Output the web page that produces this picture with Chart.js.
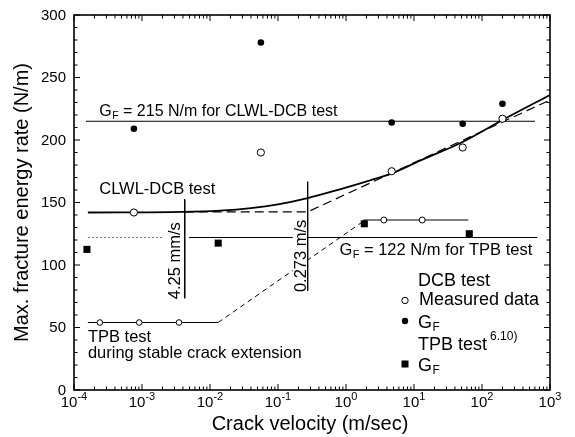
<!DOCTYPE html>
<html>
<head>
<meta charset="utf-8">
<script src="https://cdn.jsdelivr.net/npm/chart.js@4/dist/chart.umd.min.js"></script>
<style>
  html, body { margin: 0; padding: 0; background: #fff; }
  #wrap { width: 575px; height: 437px; }
</style>
</head>
<body>
<div id="wrap"><canvas id="c" width="575" height="437"></canvas></div>
<script>
// ---- axis ranges & tick labels ----
const xMin = 1e-4, xMax = 1e3;
const yMin = 0, yMax = 300;
const xTickExponents = [-4, -3, -2, -1, 0, 1, 2, 3];
const yTickValues = [0, 50, 100, 150, 200, 250, 300];

// ---- DCB test ----
const dcbMeasuredX = [7.6e-4, 0.056, 4.7, 52, 200];
const dcbMeasuredY = [142, 190, 175, 194, 217];
const dcbGfX = [7.6e-4, 0.056, 4.7, 52, 200];
const dcbGfY = [209, 278, 214, 213, 229];

// ---- TPB test GF ----
const tpbGfX = [1.55e-4, 0.0132, 1.86, 65];
const tpbGfY = [112.5, 117.5, 133, 125];

// ---- TPB during stable crack extension (open circles) ----
const tpbStableX = [2.4e-4, 9.1e-4, 3.5e-3];
const tpbStableY = [54, 54, 54];
const tpbUpperX = [3.6, 13.2];
const tpbUpperY = [136, 136];
const tpbStableLineX = [1.6e-4, 0.0132];
const tpbStableLineY = [54, 54];
const tpbTransitionX = [0.0132, 1.8];
const tpbTransitionY = [54, 135];
const tpbUpperLineX = [1.8, 63];
const tpbUpperLineY = [136, 136];

// ---- CLWL-DCB curves ----
const clwlCurveX = [1.6e-4, 4e-3, 0.014, 0.04, 0.1, 0.273, 0.81, 2.2, 4.7, 12.3, 50, 200, 1000];
const clwlCurveY = [142, 142.5, 143.5, 145.5, 148.5, 153.5, 160.5, 167.5, 173.3, 183.5, 198, 216, 236];
const clwlDashX = [4.25e-3, 0.273, 1000];
const clwlDashY = [142.5, 142.5, 232];

// ---- reference lines ----
const gf215X = [1.5e-4, 600];
const gf215Y = [215, 215];
const gf122LeftX = [1.6e-4, 2.0e-3];
const gf122LeftY = [122, 122];
const gf122RightX = [4.9e-3, 650];
const gf122RightY = [122, 122];
const vLine1X = [4.25e-3, 4.25e-3];
const vLine1Y = [152.6, 73.4];
const vLine2X = [0.273, 0.273];
const vLine2Y = [166.6, 79.4];

function pts(xs, ys) { return xs.map((x, i) => ({ x: x, y: ys[i] })); }

function lineDs(xs, ys, opts) {
  return Object.assign({
    data: pts(xs, ys), showLine: true, pointRadius: 0, borderColor: '#000',
    borderWidth: 1, fill: false, tension: 0
  }, opts || {});
}

const FONT = '"Liberation Sans", Arial, Helvetica, sans-serif';

const datasets = [
  { data: pts(dcbMeasuredX, dcbMeasuredY), pointStyle: 'circle', pointRadius: 3.6,
    pointBackgroundColor: '#fff', pointBorderColor: '#000', pointBorderWidth: 1, showLine: false },
  { data: pts(tpbStableX, tpbStableY), pointStyle: 'circle', pointRadius: 2.8,
    pointBackgroundColor: '#fff', pointBorderColor: '#000', pointBorderWidth: 1, showLine: false },
  { data: pts(tpbUpperX, tpbUpperY), pointStyle: 'circle', pointRadius: 3,
    pointBackgroundColor: '#fff', pointBorderColor: '#000', pointBorderWidth: 1, showLine: false },
  { data: pts(dcbGfX, dcbGfY), pointStyle: 'circle', pointRadius: 3.3,
    pointBackgroundColor: '#000', pointBorderColor: '#000', pointBorderWidth: 0, showLine: false },
  { data: pts(tpbGfX, tpbGfY), pointStyle: 'rect', pointRadius: 5,
    pointBackgroundColor: '#000', pointBorderColor: '#000', pointBorderWidth: 0, showLine: false },
  lineDs(clwlCurveX, clwlCurveY, { borderWidth: 1.8, cubicInterpolationMode: 'monotone' }),
  lineDs(clwlDashX, clwlDashY, { borderWidth: 1.2, borderDash: [9, 5] }),
  lineDs(gf215X, gf215Y, { borderWidth: 1 }),
  lineDs(gf122LeftX, gf122LeftY, { borderWidth: 1, borderColor: '#777', borderDash: [2, 2] }),
  lineDs(gf122RightX, gf122RightY, { borderWidth: 1.2 }),
  lineDs(vLine1X, vLine1Y, { borderWidth: 1 }),
  lineDs(vLine2X, vLine2Y, { borderWidth: 1 }),
  lineDs(tpbStableLineX, tpbStableLineY, { borderWidth: 1 }),
  lineDs(tpbTransitionX, tpbTransitionY, { borderWidth: 1, borderDash: [5, 4] }),
  lineDs(tpbUpperLineX, tpbUpperLineY, { borderWidth: 1.2 })
];

// draws "G" with subscript "F" followed by optional text; returns end x
function drawGF(ctx, x, y, size, rest) {
  ctx.textAlign = 'left';
  ctx.textBaseline = 'alphabetic';
  ctx.font = size + 'px ' + FONT;
  ctx.fillText('G', x, y);
  let cx = x + ctx.measureText('G').width;
  const sub = size * 0.66;
  ctx.font = sub + 'px ' + FONT;
  ctx.fillText('F', cx + 0.5, y + size * 0.2);
  cx += ctx.measureText('F').width + 0.5;
  if (rest) {
    ctx.font = size + 'px ' + FONT;
    ctx.fillText(rest, cx, y);
    cx += ctx.measureText(rest).width;
  }
  return cx;
}

function drawRotated(ctx, text, x, y, size, whiteBg) {
  ctx.save();
  ctx.translate(x, y);
  ctx.rotate(-Math.PI / 2);
  ctx.font = size + 'px ' + FONT;
  ctx.textAlign = 'center';
  ctx.textBaseline = 'alphabetic';
  if (whiteBg) {
    const w = ctx.measureText(text).width;
    ctx.fillStyle = '#fff';
    ctx.fillRect(-w / 2 - 2, -size * 0.78, w + 4, size * 0.85);
    ctx.fillStyle = '#000';
  }
  ctx.fillText(text, 0, 0);
  ctx.restore();
}

const decorPlugin = {
  id: 'decor',
  afterDatasetsDraw(chart) {
    const ctx = chart.ctx;
    const xs = chart.scales.x, ys = chart.scales.y;
    const a = chart.chartArea;
    const P = (x, y) => [xs.getPixelForValue(x), ys.getPixelForValue(y)];
    ctx.save();
    ctx.fillStyle = '#000';
    ctx.strokeStyle = '#000';

    // frame
    ctx.lineWidth = 1.6;
    ctx.strokeRect(a.left, a.top, a.right - a.left, a.bottom - a.top);

    // y ticks (inward, both sides)
    ctx.lineWidth = 1;
    for (let v = yMin; v <= yMax; v += 10) {
      const py = ys.getPixelForValue(v);
      const len = (v % 50 === 0) ? 6 : 3.5;
      ctx.beginPath();
      ctx.moveTo(a.left, py); ctx.lineTo(a.left + len, py);
      ctx.moveTo(a.right, py); ctx.lineTo(a.right - len, py);
      ctx.stroke();
    }
    // x ticks (inward, top & bottom)
    for (let e = xTickExponents[0]; e < xTickExponents[xTickExponents.length - 1] + 1; e++) {
      for (let m = 1; m <= 9; m++) {
        const v = m * Math.pow(10, e);
        if (v > xMax * 1.0001) break;
        const px = xs.getPixelForValue(v);
        const len = (m === 1) ? 6 : 3.5;
        ctx.beginPath();
        ctx.moveTo(px, a.bottom); ctx.lineTo(px, a.bottom - len);
        ctx.moveTo(px, a.top); ctx.lineTo(px, a.top + len);
        ctx.stroke();
      }
    }

    // y tick labels
    ctx.font = '15px ' + FONT;
    ctx.textAlign = 'right';
    ctx.textBaseline = 'middle';
    yTickValues.forEach(v => {
      ctx.fillText(String(v), a.left - 8, ys.getPixelForValue(v) + 0.5);
    });

    // x tick labels 10^n
    xTickExponents.forEach(e => {
      const px = xs.getPixelForValue(Math.pow(10, e));
      ctx.font = '15px ' + FONT;
      const wb = ctx.measureText('10').width;
      ctx.font = '11px ' + FONT;
      const sup = String(e);
      const ws = ctx.measureText(sup).width;
      const x0 = px - (wb + ws) / 2;
      ctx.textAlign = 'left';
      ctx.textBaseline = 'alphabetic';
      ctx.font = '15px ' + FONT;
      ctx.fillText('10', x0, a.bottom + 17);
      ctx.font = '11px ' + FONT;
      ctx.fillText(sup, x0 + wb, a.bottom + 10);
    });

    // axis titles
    ctx.font = '20px ' + FONT;
    ctx.textAlign = 'center';
    ctx.textBaseline = 'middle';
    ctx.fillText('Crack velocity (m/sec)', (a.left + a.right) / 2 - 2, 424);
    ctx.save();
    ctx.translate(22, (a.top + a.bottom) / 2);
    ctx.rotate(-Math.PI / 2);
    ctx.fillText('Max. fracture energy rate (N/m)', 0, 0);
    ctx.restore();

    // annotations
    let p = P(2.35e-4, 219.5);
    drawGF(ctx, p[0], p[1], 16, ' = 215 N/m for CLWL-DCB test');
    p = P(2.35e-4, 156.8);
    ctx.font = '16.5px ' + FONT; ctx.textAlign = 'left'; ctx.textBaseline = 'alphabetic';
    ctx.fillText('CLWL-DCB test', p[0], p[1]);
    p = P(1.6e-4, 38.2);
    ctx.fillText('TPB test', p[0], p[1]);
    p = P(1.6e-4, 26);
    ctx.fillText('during stable crack extension', p[0], p[1]);
    p = P(0.80, 108);
    drawGF(ctx, p[0], p[1], 16.5, ' = 122 N/m for TPB test');

    p = P(3.6e-3, 103.4);
    drawRotated(ctx, '4.25 mm/s', p[0], p[1], 16.5, false);
    p = P(0.255, 107.3);
    drawRotated(ctx, '0.273 m/s', p[0], p[1], 16.5, true);

    // legend
    const lx = 405, tx = 418;
    ctx.font = '18px ' + FONT; ctx.textAlign = 'left'; ctx.textBaseline = 'middle';
    ctx.fillText('DCB test', tx, 281);
    ctx.beginPath(); ctx.arc(lx, 300.5, 3.2, 0, Math.PI * 2);
    ctx.fillStyle = '#fff'; ctx.fill(); ctx.lineWidth = 1; ctx.stroke();
    ctx.fillStyle = '#000';
    ctx.fillText('Measured data', tx + 1, 300.5);
    ctx.beginPath(); ctx.arc(lx, 321, 3.2, 0, Math.PI * 2); ctx.fill();
    drawGF(ctx, tx, 327.5, 18, '');
    ctx.font = '18px ' + FONT; ctx.textAlign = 'left'; ctx.textBaseline = 'middle';
    ctx.fillText('TPB test', tx, 345);
    const wt = ctx.measureText('TPB test').width;
    ctx.font = '12px ' + FONT;
    ctx.fillText('6.10)', tx + wt + 3, 337);
    ctx.fillRect(lx - 3.5, 364 - 3.5, 7, 7);
    drawGF(ctx, tx, 370.5, 18, '');

    ctx.restore();
  }
};

new Chart(document.getElementById('c'), {
  type: 'scatter',
  data: { datasets: datasets },
  options: {
    responsive: false,
    animation: false,
    devicePixelRatio: 1,
    layout: { padding: { left: 74, right: 25, top: 15, bottom: 47 } },
    plugins: { legend: { display: false }, tooltip: { enabled: false } },
    scales: {
      x: { type: 'logarithmic', min: xMin, max: xMax, display: false },
      y: { type: 'linear', min: yMin, max: yMax, display: false }
    }
  },
  plugins: [decorPlugin]
});
</script>
</body>
</html>
